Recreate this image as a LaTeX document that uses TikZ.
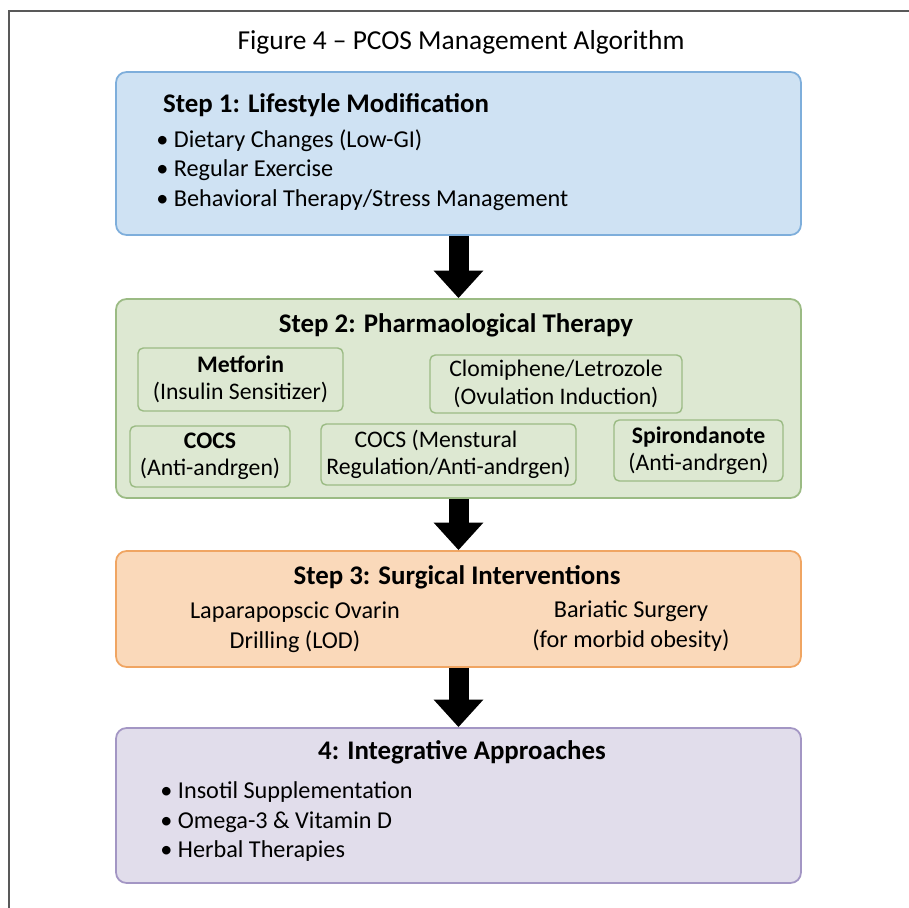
\documentclass[tikz,border=0pt]{standalone}
\usepackage{fontspec}
\setmainfont{Carlito}
\usepackage{xcolor}
\usepackage{tikz}
\usetikzlibrary{arrows.meta,positioning,calc}

\definecolor{lifefill}{HTML}{CFE2F3}
\definecolor{lifedraw}{HTML}{7EAEDB}
\definecolor{pharmfill}{HTML}{DDE8D2}
\definecolor{pharmdraw}{HTML}{9BBB84}
\definecolor{surgfill}{HTML}{FAD9BA}
\definecolor{surgdraw}{HTML}{F0A562}
\definecolor{integfill}{HTML}{E1DDEB}
\definecolor{integdraw}{HTML}{A396C4}

\begin{document}
\begin{tikzpicture}[
    stepbox/.style={draw, rounded corners=6pt, line width=1pt, minimum width=13.7cm},
    drug/.style={draw=pharmdraw, fill=pharmfill, rounded corners=3pt, line width=0.8pt, align=center, font=\fontsize{13.5}{15.5}\selectfont, inner sep=2pt},
    heading/.style={font=\fontsize{15.3}{18}\selectfont\bfseries},
    items/.style={align=left, font=\fontsize{13.8}{17}\selectfont, inner sep=0pt},
    flow/.style={line width=0.4cm, -{Triangle[width=0.96cm,length=0.55cm]}},
]

\useasboundingbox (0,0) rectangle (18.18,-18.16);

% outer frame (top and left only)
\draw[gray!70!black, line width=0.7pt] (0.18,-18.16) -- (0.18,-0.22) -- (18.18,-0.22);

% Title
\node[font=\fontsize{15.6}{18}\selectfont] (title) at (9.22,-0.84) {Figure 4 -- PCOS Management Algorithm};

% Step 1 box
\node[stepbox, fill=lifefill, draw=lifedraw, minimum height=3.26cm] (life) at (9.17,-3.07) {};
\node[heading, anchor=west] (lifehead) at (3.14,-2.1) {Step 1: Lifestyle Modification};
\node[items, anchor=north west] (lifelist) at (3.12,-2.58) {%
    • Dietary Changes (Low-GI)\\
    • Regular Exercise\\
    • Behavioral Therapy/Stress Management};

% Step 2 box
\node[stepbox, fill=pharmfill, draw=pharmdraw, minimum height=3.98cm] (pharm) at (9.17,-7.97) {};
\node[heading] (pharmhead) at (9.12,-6.5) {Step 2: Pharmaological Therapy};

\node[drug, minimum width=4.1cm, minimum height=1.26cm] (metf) at (4.81,-7.59) {\textbf{Metforin}\\(Insulin Sensitizer)};
\node[drug, minimum width=5.04cm, minimum height=1.16cm] (clom) at (11.12,-7.68) {Clomiphene/Letrozole\\(Ovulation Induction)};
\node[drug, minimum width=3.2cm, minimum height=1.22cm] (cocs) at (4.2,-9.13) {\textbf{COCS}\\(Anti-andrgen)};
\node[drug, minimum width=5.1cm, minimum height=1.22cm] (mens) at (8.97,-9.09) {\hspace*{-0.5cm}COCS (Menstural\\Regulation/Anti-andrgen)};
\node[drug, minimum width=3.38cm, minimum height=1.22cm] (spiro) at (13.97,-9.01) {\textbf{Spirondanote}\\(Anti-andrgen)};

% Step 3 box
\node[stepbox, fill=surgfill, draw=surgdraw, minimum height=2.32cm] (surg) at (9.17,-12.18) {};
\node[heading] (surghead) at (9.14,-11.54) {Step 3: Surgical Interventions};
\node[items, align=center] (lod) at (5.9,-12.54) {Laparapopscic Ovarin\\Drilling (LOD)};
\node[items, align=center] (bari) at (12.62,-12.52) {Bariatic Surgery\\(for morbid obesity)};

% Step 4 box
\node[stepbox, fill=integfill, draw=integdraw, minimum height=3.1cm] (integ) at (9.17,-16.11) {};
\node[heading] (integhead) at (9.24,-15.04) {4: Integrative Approaches};
\node[items, anchor=north west] (integlist) at (3.2,-15.62) {%
    • Insotil Supplementation\\
    • Omega-3 \& Vitamin D\\
    • Herbal Therapies};

% Arrows between steps
\draw[flow] (life.south) -- (pharm.north);
\draw[flow] (pharm.south) -- (surg.north);
\draw[flow] (surg.south) -- (integ.north);

\end{tikzpicture}
\end{document}
